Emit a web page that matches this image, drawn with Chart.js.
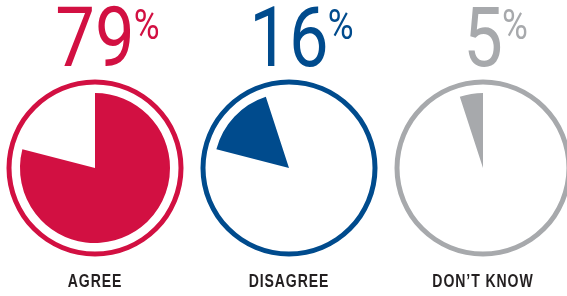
<!DOCTYPE html>
<html><head><meta charset="utf-8">
<script src="https://cdn.jsdelivr.net/npm/chart.js@4"></script>
<style>
html,body{margin:0;padding:0;width:567px;height:296px;overflow:hidden;background:#fff;}
canvas{position:absolute;top:0;}
</style></head><body>
<canvas id="c0" width="194" height="296"></canvas>
<canvas id="c1" width="194" height="296"></canvas>
<canvas id="c2" width="194" height="296"></canvas>
<script>
// ---- data ----
const categories = ['AGREE', 'DISAGREE', 'DON\u2019T KNOW'];
const values = [79, 16, 5];
const seriesColors = ['#d21042', '#004b8d', '#a7a9ac'];
const fullCircle = [100];

// ---- layout ----
const centersX = [95, 288.5, 483];
const CANVAS_W = 194, CENTER_Y = 168, OUTER_R = 88.5;
const RING_W = 5, GAP_W = 8.5, PIE_R = OUTER_R - RING_W - GAP_W;
const NUM_FONT = '400 84px Roboto, "Liberation Sans", sans-serif';
const PCT_FONT = '400 42px Roboto, "Liberation Sans", sans-serif';
const LABEL_FONT = 'bold 18.5px "Liberation Sans", Arial, sans-serif';

function makeTextPlugin(i) {
  return {
    id: 'gaugeText' + i,
    afterDraw(chart) {
      const ctx = chart.ctx;
      const a = chart.chartArea;
      const cx = (a.left + a.right) / 2;
      // big percentage
      ctx.save();
      ctx.fillStyle = seriesColors[i];
      ctx.textBaseline = 'alphabetic';
      ctx.translate(cx, 0);
      ctx.scale(0.84, 1);
      ctx.font = NUM_FONT;
      ctx.textAlign = 'center';
      const txt = String(values[i]);
      ctx.fillText(txt, 0, 66);
      const w = ctx.measureText(txt).width;
      ctx.font = PCT_FONT;
      ctx.textAlign = 'left';
      ctx.fillText('%', w / 2 - 1, 39);
      ctx.restore();
      // category label
      ctx.save();
      ctx.fillStyle = '#231f20';
      ctx.textBaseline = 'alphabetic';
      ctx.translate(cx, 0);
      ctx.scale(0.76, 1);
      ctx.font = LABEL_FONT;
      ctx.letterSpacing = '1.2px';
      ctx.textAlign = 'center';
      ctx.fillText(categories[i], 0, 287);
      ctx.restore();
    }
  };
}

categories.forEach((cat, i) => {
  const cv = document.getElementById('c' + i);
  cv.style.left = (centersX[i] - CANVAS_W / 2) + 'px';
  const side = (CANVAS_W - 2 * OUTER_R) / 2;
  const top = CENTER_Y - OUTER_R;
  new Chart(cv, {
    type: 'pie',
    data: {
      labels: categories,
      datasets: [
        { data: fullCircle, backgroundColor: [seriesColors[i]], weight: RING_W },
        { data: fullCircle, backgroundColor: ['rgba(0,0,0,0)'], weight: GAP_W },
        { data: values, backgroundColor: values.map((v, j) => j === i ? seriesColors[i] : 'rgba(0,0,0,0)'), weight: PIE_R }
      ]
    },
    options: {
      responsive: false,
      animation: false,
      events: [],
      elements: { arc: { borderWidth: 0 } },
      layout: { padding: { left: side, right: side, top: top, bottom: 296 - top - 2 * OUTER_R } },
      plugins: { legend: { display: false }, tooltip: { enabled: false }, title: { display: false } }
    },
    plugins: [makeTextPlugin(i)]
  });
});
</script>
</body></html>
